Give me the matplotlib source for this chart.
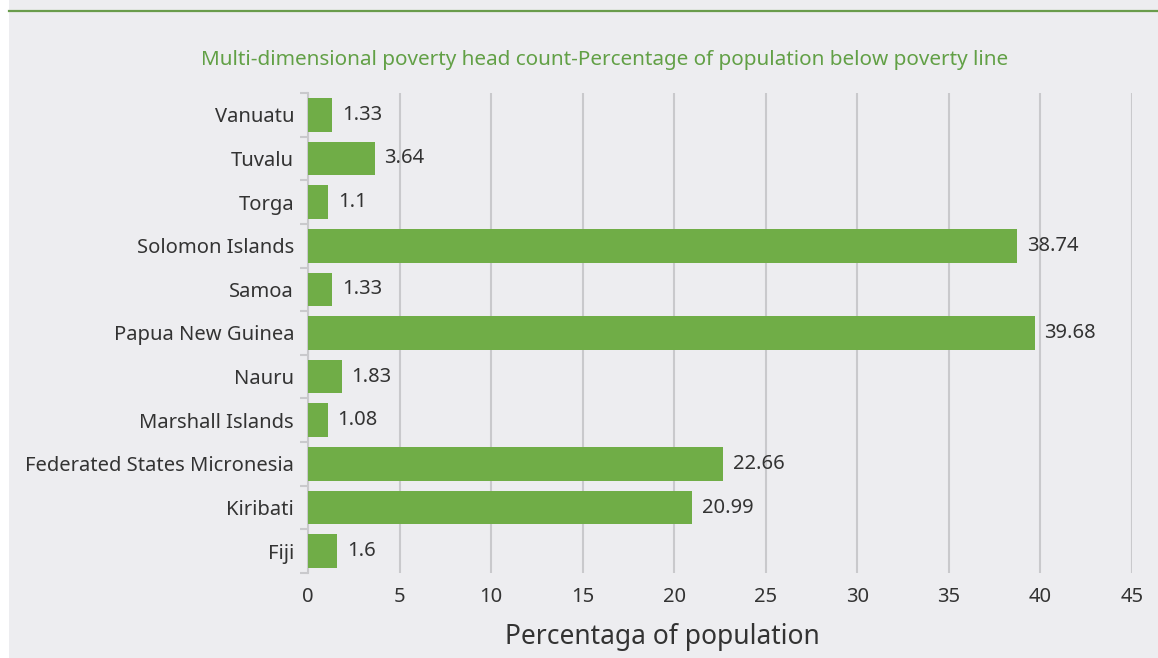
import matplotlib.pyplot as plt
from matplotlib.patches import Rectangle
from matplotlib.lines import Line2D

countries = ["Vanuatu", "Tuvalu", "Torga", "Solomon Islands", "Samoa",
             "Papua New Guinea", "Nauru", "Marshall Islands",
             "Federated States Micronesia", "Kiribati", "Fiji"]
head_count = [1.33, 3.64, 1.1, 38.74, 1.33, 39.68, 1.83, 1.08, 22.66, 20.99, 1.6]
value_labels = ["1.33", "3.64", "1.1", "38.74", "1.33", "39.68", "1.83", "1.08",
                "22.66", "20.99", "1.6"]
x_ticks = [0, 5, 10, 15, 20, 25, 30, 35, 40, 45]

plt.rcParams['font.family'] = ['Noto Sans', 'DejaVu Sans']

bg = "#ededf0"
bar_green = "#70ad47"
text_col = "#333333"
grid_col = "#c9c9cc"

fig = plt.figure(figsize=(11.58, 6.58), dpi=100, facecolor="white")
# grey panel with the green rule across the top
fig.patches.append(Rectangle((9 / 1158, 0), 1, 1, transform=fig.transFigure,
                             facecolor=bg, edgecolor="none", zorder=-10))
fig.lines.append(Line2D([9 / 1158, 1], [1 - 11 / 658, 1 - 11 / 658],
                        transform=fig.transFigure, color="#6a9c4c", lw=1.6))

ax = fig.add_axes([308 / 1158, 85 / 658, 824 / 1158, 480 / 658])
ax.set_facecolor(bg)

pos = list(range(len(countries)))
ax.barh(pos, head_count, height=0.77, color=bar_green, zorder=3)

for p, v, lab in zip(pos, head_count, value_labels):
    ax.annotate(lab, (v, p), xytext=(7, 0), textcoords="offset points",
                va="center", ha="left", fontsize=14.5, color=text_col)

ax.set_xlim(0, 45)
ax.set_ylim(len(countries) - 0.5, -0.5)
ax.set_xticks(x_ticks)
ax.set_xticklabels([str(t) for t in x_ticks])
ax.set_yticks(pos)
ax.set_yticklabels(countries)
ax.set_yticks([i - 0.5 for i in range(len(countries) + 1)], minor=True)

ax.tick_params(axis="x", length=0, pad=10, labelsize=14.5, colors=text_col)
ax.tick_params(axis="y", which="major", length=0, pad=10, labelsize=14.5,
               colors=text_col)
ax.tick_params(axis="y", which="minor", length=6, width=1.5, color=grid_col)

ax.grid(axis="x", color=grid_col, lw=1.5, zorder=0)
for s in ["top", "right", "bottom"]:
    ax.spines[s].set_visible(False)
ax.spines["left"].set_color(grid_col)
ax.spines["left"].set_linewidth(1.5)

ax.set_xlabel("Percentaga of population", fontsize=19, color=text_col)
# label sits left of the plot centre, just above the bottom edge
ax.xaxis.set_label_coords((662 - 308) / 824, -(637 - 573) / 480)
ax.xaxis.label.set_va("center")

fig.text(605 / 1158, 1 - 60 / 658,
         "Multi-dimensional poverty head count-Percentage of population below poverty line",
         ha="center", va="center", fontsize=14.9, color="#62a046")

fig.savefig("out.png", dpi=100, facecolor=fig.get_facecolor())
